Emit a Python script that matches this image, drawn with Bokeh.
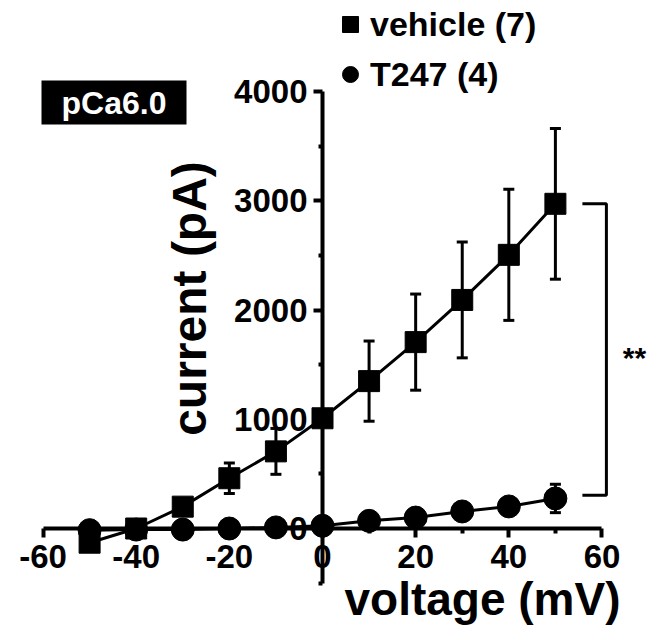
import math
from bokeh.plotting import figure
from bokeh.models import (Range1d, FixedTicker, Whisker, ColumnDataSource, Legend,
                          LegendItem, Label, TeeHead, BoxAnnotation)
from bokeh.embed import file_html
from bokeh.resources import INLINE

# ---------------- data ----------------
voltage = [-50, -40, -30, -20, -10, 0, 10, 20, 30, 40, 50]
vehicle_mean = [-130, 0, 200, 460, 706, 1009, 1349, 1706, 2092, 2505, 2972]
vehicle_sem = [30, 40, 60, 140, 210, 60, 367, 440, 530, 600, 690]
t247_mean = [-15, -10, -10, 0, 10, 25, 70, 100, 156, 202, 275]
t247_sem = [10, 10, 10, 10, 15, 20, 30, 40, 60, 70, 130]

x_ticks = [-60, -40, -20, 0, 20, 40, 60]
x_minor = [-50, -30, -10, 10, 30, 50]
y_ticks = [0, 1000, 2000, 3000, 4000]
y_minor = [-500, 500, 1500, 2500, 3500]

# ---------------- layout helpers ----------------
W, H = 651, 627
X0PX, XS = 322.0, 4.658      # px of x=0, px per mV
Y0PX, YS = 528.0, 0.10925    # px of y=0, px per pA

def px2x(px):
    return (px - X0PX) / XS

def px2y(py):
    return (Y0PX - py) / YS

FONT = "Liberation Sans"

p = figure(width=W, height=H, output_backend="svg", toolbar_location=None,
           x_range=Range1d(px2x(0), px2x(W)), y_range=Range1d(px2y(H), px2y(0)),
           min_border=0)
p.outline_line_color = None
p.grid.visible = False
p.background_fill_color = "white"

# axes crossing at zero
xa = p.xaxis[0]
xa.fixed_location = 0
xa.bounds = (-60, 60)
xa.ticker = FixedTicker(ticks=x_ticks, minor_ticks=x_minor)
xa.major_label_overrides = {t: str(t) for t in x_ticks}
ya = p.yaxis[0]
ya.fixed_location = 0
ya.bounds = (-500, 4000)
ya.ticker = FixedTicker(ticks=y_ticks, minor_ticks=y_minor)
ya.major_label_overrides = {t: str(t) for t in y_ticks}
for ax in (xa, ya):
    ax.axis_line_width = 4
    ax.axis_line_color = "black"
    ax.major_tick_line_width = 4
    ax.minor_tick_line_width = 4
    ax.major_tick_in = 0
    ax.minor_tick_in = 0
    ax.major_label_text_font = FONT
    ax.major_label_text_font_style = "bold"
    ax.major_label_text_font_size = "33px"
    ax.major_label_text_color = "black"
xa.major_tick_out = 9
xa.minor_tick_out = 5
xa.major_label_standoff = 7
ya.major_tick_out = 9
ya.minor_tick_out = 4
ya.major_label_standoff = 6

# series
src_v = ColumnDataSource(dict(x=voltage, y=vehicle_mean,
                              lo=[m - s for m, s in zip(vehicle_mean, vehicle_sem)],
                              hi=[m + s for m, s in zip(vehicle_mean, vehicle_sem)]))
src_t = ColumnDataSource(dict(x=voltage, y=t247_mean,
                              lo=[m - s for m, s in zip(t247_mean, t247_sem)],
                              hi=[m + s for m, s in zip(t247_mean, t247_sem)]))

for src in (src_v, src_t):
    p.add_layout(Whisker(source=src, base="x", lower="lo", upper="hi",
                         line_width=3, line_color="black",
                         upper_head=TeeHead(size=11, line_width=3, line_color="black"),
                         lower_head=TeeHead(size=11, line_width=3, line_color="black")))

p.line("x", "y", source=src_t, line_width=3, color="black")
r_t = p.scatter("x", "y", source=src_t, marker="circle", size=23, color="black")
p.line("x", "y", source=src_v, line_width=3, color="black")
r_v = p.scatter("x", "y", source=src_v, marker="square", size=21, color="black")

# significance bracket
xl = voltage[-1]
bx = [xl + px2x(582) - px2x(555), xl + px2x(606) - px2x(555),
      xl + px2x(606) - px2x(555), xl + px2x(582) - px2x(555)]
by = [vehicle_mean[-1], vehicle_mean[-1], t247_mean[-1] + 30, t247_mean[-1] + 30]
p.line(bx, by, line_width=3, color="black")
p.add_layout(Label(x=px2x(634), y=px2y(357), text="**", text_align="center",
                   text_baseline="alphabetic", text_font=FONT, text_font_style="bold",
                   text_font_size="30px", text_color="black"))

# axis titles
p.add_layout(Label(x=px2x(482), y=px2y(598), text="voltage (mV)", text_align="center",
                   text_baseline="alphabetic", text_font=FONT, text_font_style="bold",
                   text_font_size="46px", text_color="black"))
p.add_layout(Label(x=px2x(189), y=px2y(298), text="current (pA)", text_align="center",
                   text_baseline="middle", angle=math.pi / 2, text_font=FONT,
                   text_font_style="bold", text_font_size="48px", text_color="black"))

# pCa6.0 box
p.add_layout(BoxAnnotation(left=px2x(41), right=px2x(186), top=px2y(80), bottom=px2y(124),
                           fill_color="black", fill_alpha=1, line_color=None))
p.add_layout(Label(x=px2x(113.5), y=px2y(102), text="pCa6.0", text_align="center",
                   text_baseline="middle", text_font=FONT, text_font_style="bold",
                   text_font_size="32px", text_color="white"))

# legend
legend = Legend(items=[LegendItem(label="vehicle (7)", renderers=[r_v]),
                       LegendItem(label="T247 (4)", renderers=[r_t])],
                location=(330, H - 94), padding=0, margin=0, spacing=10,
                glyph_width=40, glyph_height=40, label_standoff=-7,
                label_text_font=FONT, label_text_font_style="bold",
                label_text_font_size="34px", label_text_color="black",
                background_fill_alpha=0, border_line_alpha=0)
p.add_layout(legend)

open("out.html", "w").write(file_html(p, INLINE))
